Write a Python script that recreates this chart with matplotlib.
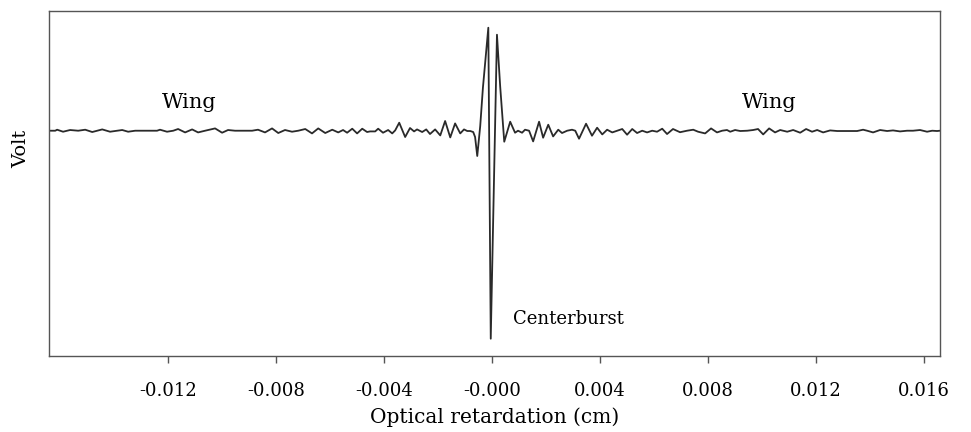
import matplotlib
matplotlib.use("Agg")
import matplotlib.pyplot as plt
import numpy as np

# Optical retardation (cm) and detector signal (V, relative to baseline)
retardation = [
    -0.01640, -0.01617, -0.01610, -0.01588, -0.01562, -0.01532, -0.01506, -0.01480,
    -0.01443, -0.01414, -0.01388, -0.01369, -0.01347, -0.01321, -0.01240, -0.01229,
    -0.01203, -0.01180, -0.01162, -0.01136, -0.01110, -0.01088, -0.01062, -0.01025,
    -0.00999, -0.00977, -0.00951, -0.00888, -0.00866, -0.00840, -0.00814, -0.00791,
    -0.00766, -0.00740, -0.00717, -0.00691, -0.00666, -0.00643, -0.00617, -0.00591,
    -0.00569, -0.00551, -0.00536, -0.00517, -0.00499, -0.00480, -0.00462, -0.00451,
    -0.00432, -0.00421, -0.00403, -0.00384, -0.00369, -0.00358, -0.00343, -0.00321,
    -0.00303, -0.00288, -0.00277, -0.00258, -0.00243, -0.00229, -0.00210, -0.00191,
    -0.00173, -0.00154, -0.00136, -0.00117, -0.00103, -0.00091, -0.00080, -0.00069,
    -0.00062, -0.00054, -0.00043, -0.00033, -0.00013, -0.00004, 0.00019, 0.00031,
    0.00046, 0.00068, 0.00086, 0.00097, 0.00112, 0.00123, 0.00138, 0.00153,
    0.00175, 0.00190, 0.00209, 0.00227, 0.00246, 0.00260, 0.00279, 0.00297,
    0.00309, 0.00323, 0.00349, 0.00371, 0.00390, 0.00409, 0.00427, 0.00446,
    0.00464, 0.00483, 0.00501, 0.00520, 0.00538, 0.00557, 0.00575, 0.00594,
    0.00612, 0.00631, 0.00649, 0.00671, 0.00697, 0.00723, 0.00746, 0.00764,
    0.00790, 0.00812, 0.00834, 0.00853, 0.00871, 0.00883, 0.00901, 0.00920,
    0.00946, 0.00968, 0.00986, 0.01005, 0.01027, 0.01049, 0.01068, 0.01094,
    0.01116, 0.01142, 0.01164, 0.01186, 0.01205, 0.01227, 0.01253, 0.01279,
    0.01353, 0.01375, 0.01390, 0.01412, 0.01438, 0.01464, 0.01486, 0.01512,
    0.01538, 0.01560, 0.01586, 0.01612, 0.01631, 0.01649, 0.01660,
]
signal = [
    0.000, 0.000, 0.010, -0.010, 0.007, 0.000, 0.010, -0.013,
    0.013, -0.010, 0.000, 0.007, -0.010, 0.000, 0.000, 0.010,
    -0.010, 0.000, 0.017, -0.017, 0.013, -0.017, 0.000, 0.023,
    -0.020, 0.007, 0.000, 0.000, 0.010, -0.017, 0.023, -0.023,
    0.007, -0.010, 0.000, 0.017, -0.027, 0.023, -0.023, 0.010,
    -0.017, 0.007, -0.020, 0.020, -0.027, 0.020, -0.013, -0.007,
    -0.007, 0.020, -0.020, 0.007, -0.027, 0.003, 0.080, -0.063,
    0.027, -0.007, 0.013, -0.013, 0.013, -0.033, 0.013, -0.047,
    0.097, -0.067, 0.073, -0.027, 0.013, -0.003, -0.003, -0.013,
    -0.063, -0.253, 0.047, 0.430, 1.030, -2.080, 0.960, 0.440,
    -0.110, 0.090, -0.020, 0.000, -0.020, 0.010, 0.000, -0.107,
    0.090, -0.070, 0.060, -0.057, 0.010, -0.023, 0.000, 0.010,
    0.000, -0.080, 0.070, -0.050, 0.030, -0.037, 0.010, -0.017,
    0.000, 0.017, -0.040, 0.017, -0.023, 0.000, -0.017, 0.000,
    -0.010, 0.020, -0.033, 0.017, -0.015, 0.000, 0.010, -0.010,
    -0.027, 0.023, -0.017, 0.000, 0.007, -0.010, 0.007, -0.003,
    0.000, 0.007, 0.017, -0.037, 0.023, -0.017, 0.007, -0.010,
    0.007, -0.020, 0.017, -0.010, 0.007, -0.017, 0.003, -0.003,
    -0.003, 0.010, 0.000, -0.017, 0.007, -0.003, 0.003, -0.007,
    0.000, 0.000, 0.007, -0.010, 0.000, -0.003, 0.000,
]
tick_values = [-0.012, -0.008, -0.004, 0.0, 0.004, 0.008, 0.012, 0.016]
tick_labels = ["-0.012", "-0.008", "-0.004", "-0.000", "0.004", "0.008", "0.012", "0.016"]

plt.rcParams["font.family"] = ["DejaVu Serif"]

fig = plt.figure(figsize=(9.71, 4.32), dpi=100)
ax = fig.add_axes([0.0505, 0.1759, 0.9176, 0.7986])

ax.plot(retardation, signal, color="#2a2a2a", linewidth=1.3,
        solid_joinstyle="round")

ax.set_xlim(-0.01640, 0.01660)
ax.set_ylim(-2.253, 1.197)
ax.set_xticks(tick_values)
ax.set_xticklabels(tick_labels, fontsize=13)
ax.set_yticks([])
ax.tick_params(axis="x", direction="out", length=5, width=1, color="#555555", pad=14)

for sp in ax.spines.values():
    sp.set_color("#555555")
    sp.set_linewidth(1.0)

ax.set_xlabel("Optical retardation (cm)", fontsize=14.5, labelpad=5)
ax.set_ylabel("Volt", fontsize=14)
ax.yaxis.set_label_coords(-0.021, 0.60)

ax.text(-0.01121, 0.28, "Wing", fontsize=15, ha="center", va="center")
ax.text(0.01027, 0.28, "Wing", fontsize=15, ha="center", va="center")
ax.text(0.00079, -1.88, "Centerburst", fontsize=13, ha="left", va="center")

fig.savefig("out.png", dpi=100)
